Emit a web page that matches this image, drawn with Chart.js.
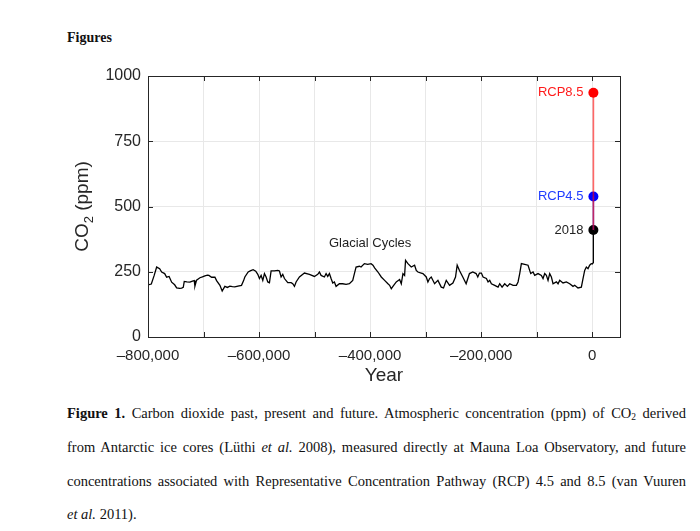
<!DOCTYPE html>
<html>
<head>
<meta charset="utf-8">
<title>Figure 1</title>
<script src="https://cdn.jsdelivr.net/npm/chart.js@4.4.1/dist/chart.umd.min.js"></script>
<style>
  html, body { margin: 0; padding: 0; background: #fff; }
  body { width: 700px; height: 531px; position: relative; overflow: hidden; }
  #wrap { position: absolute; left: 0; top: 0; width: 700px; height: 395px; }
  .head { position: absolute; left: 67px; top: 29px; font: bold 14px "Liberation Serif", serif; color: #111; line-height: 18px; }
  .cap { position: absolute; left: 67px; width: 619px; font: 14.5px "Liberation Serif", serif; color: #111;
         line-height: 18px; white-space: nowrap; text-align: justify; text-align-last: justify; }
  .cap.last { text-align-last: left; }
  .cap sub { font-size: 9.5px; vertical-align: -2px; line-height: 0; }
</style>
</head>
<body>
<div class="head">Figures</div>
<div id="wrap"><canvas id="co2Chart"></canvas></div>
<div class="cap" style="top:404px"><b>Figure 1.</b> Carbon dioxide past, present and future. Atmospheric concentration (ppm) of CO<sub>2</sub> derived</div>
<div class="cap" style="top:438px">from Antarctic ice cores (Lüthi <i>et al.</i> 2008), measured directly at Mauna Loa Observatory, and future</div>
<div class="cap" style="top:472px">concentrations associated with Representative Concentration Pathway (RCP) 4.5 and 8.5 (van Vuuren</div>
<div class="cap last" style="top:505px"><i>et al.</i> 2011).</div>

<script>
// Ice core record (years relative to present, CO2 ppm)
const years = [
  -800000, -794000, -789000, -784400, -779000, -775400, -770000, -766400, -762000, -757400,
  -752000, -748400, -743000, -739400, -736500, -734700, -730000, -724500, -720000, -716700,
  -715500, -712500, -706500, -702000, -697500, -693000, -690300, -685500, -679500, -676500,
  -670500, -666400, -661600, -657000, -652600, -648000, -643600, -638000, -631600, -628000,
  -625600, -619600, -615000, -610600, -606000, -602300, -599300, -596300, -593300, -590300,
  -587300, -584300, -581300, -578300, -572300, -566300, -563300, -560300, -557300, -554300,
  -548300, -542300, -539300, -536300, -533300, -527300, -518300, -509300, -500300, -494300,
  -491300, -488300, -482300, -479300, -476300, -473300, -470300, -467300, -464300, -461300,
  -455300, -449300, -443300, -437300, -431300, -428300, -425300, -419300, -416300, -410300,
  -404300, -398300, -394900, -391900, -385900, -379900, -373900, -367900, -364900, -361900,
  -358900, -352900, -346900, -343900, -340900, -337900, -336200, -331900, -325900, -319900,
  -316900, -313900, -307900, -304900, -298900, -295900, -292900, -289900, -283900, -277900,
  -271900, -267800, -262900, -256900, -250900, -246200, -243200, -239100, -233100, -227100,
  -221100, -215100, -209100, -206100, -203100, -199600, -196600, -190600, -187600, -184600,
  -181600, -175600, -169600, -166600, -162400, -157600, -152800, -148600, -142600, -136600,
  -133600, -130600, -127600, -121600, -115600, -110800, -106600, -103600, -97600, -91600,
  -88600, -85600, -82600, -79600, -76600, -73600, -70600, -64600, -61600, -58600,
  -52600, -46600, -40600, -34600, -31600, -25600, -19600, -16600, -13600, -10600,
  -7600, -4600, -1800, 0, 1850, 1958, 2018
];
const co2 = [
  200, 203, 235, 268, 262, 249, 243, 229, 232, 210,
  200, 188, 186, 187, 190, 213, 211, 210, 214, 216,
  195, 218, 227, 230, 234, 237, 236, 229, 229, 216,
  198, 176, 194, 190, 195, 193, 192, 195, 198, 215,
  230, 249, 254, 258, 252, 240, 224, 236, 217, 243,
  230, 211, 208, 253, 253, 255, 253, 230, 240, 224,
  208, 208, 204, 194, 211, 230, 245, 240, 232, 240,
  249, 236, 230, 243, 232, 243, 224, 207, 211, 194,
  204, 204, 202, 204, 217, 243, 268, 271, 268, 281,
  278, 281, 275, 265, 249, 230, 217, 204, 198, 185,
  194, 211, 220, 204, 243, 236, 294, 281, 268, 275,
  255, 249, 245, 243, 230, 211, 224, 230, 204, 217,
  191, 188, 217, 198, 207, 230, 275, 255, 230, 204,
  243, 249, 243, 230, 245, 245, 230, 224, 211, 217,
  204, 198, 191, 204, 191, 204, 194, 204, 198, 198,
  211, 243, 281, 278, 275, 243, 249, 236, 243, 236,
  224, 243, 236, 217, 243, 230, 204, 211, 204, 217,
  207, 211, 204, 194, 198, 188, 191, 224, 255, 268,
  262, 275, 281, 280, 285, 315, 410
];

// 2018 measurement and 2100 scenarios
const scenarioNames = ['2018', 'RCP4.5', 'RCP8.5'];
const scenarioYears = [2018, 2100, 2100];
const scenarioCo2 = [410, 538, 936];
const scenarioColors = ['#000000', '#0000ff', '#ff0000'];
const scenarioTextColors = ['#222222', '#1f3cff', '#ff1a1a'];

// axis ticks
const xGridTicks = [-800000, -700000, -600000, -500000, -400000, -300000, -200000, -100000, 0];
const xLabelTicks = [-800000, -600000, -400000, -200000, 0];
const xTickLabels = ['\u2013800,000', '\u2013600,000', '\u2013400,000', '\u2013200,000', '0'];
const yTicks = [0, 250, 500, 750, 1000];

const glacialLabel = { text: 'Glacial Cycles', x: -400000, y: 360 };

const INK = '#262626';
const SANS = '"Liberation Sans", Arial, Helvetica, sans-serif';

function pathTo(i) {
  return [{ x: scenarioYears[0], y: scenarioCo2[0] }, { x: scenarioYears[i], y: scenarioCo2[i] }];
}

const matlabFrame = {
  id: 'matlabFrame',
  afterDatasetsDraw(chart) {
    const { ctx, scales: { x, y } } = chart;
    ctx.save();
    ctx.font = '13px ' + SANS;
    ctx.textAlign = 'right';
    ctx.textBaseline = 'middle';
    scenarioNames.forEach((name, i) => {
      ctx.fillStyle = scenarioTextColors[i];
      ctx.fillText(name, x.getPixelForValue(scenarioYears[i]) - 10, y.getPixelForValue(scenarioCo2[i]));
    });
    ctx.textAlign = 'center';
    ctx.fillStyle = '#222';
    ctx.fillText(glacialLabel.text, x.getPixelForValue(glacialLabel.x), y.getPixelForValue(glacialLabel.y));
    ctx.restore();
  },
  afterDraw(chart) {
    const { ctx, chartArea: a, scales: { x, y } } = chart;
    ctx.save();
    ctx.strokeStyle = INK;
    ctx.lineWidth = 1;
    ctx.strokeRect(Math.round(a.left) + 0.5, Math.round(a.top) + 0.5,
                   Math.round(a.right - a.left), Math.round(a.bottom - a.top));
    const len = 5;
    ctx.beginPath();
    x.ticks.forEach(t => {
      if (t.value <= x.min || t.value >= x.max) return;
      const px = Math.round(x.getPixelForValue(t.value)) + 0.5;
      ctx.moveTo(px, a.bottom); ctx.lineTo(px, a.bottom - len);
      ctx.moveTo(px, a.top); ctx.lineTo(px, a.top + len);
    });
    y.ticks.forEach(t => {
      if (t.value <= y.min || t.value >= y.max) return;
      const py = Math.round(y.getPixelForValue(t.value)) + 0.5;
      ctx.moveTo(a.left, py); ctx.lineTo(a.left + len, py);
      ctx.moveTo(a.right, py); ctx.lineTo(a.right - len, py);
    });
    ctx.stroke();

    // y title with subscript
    const cy = (a.top + a.bottom) / 2;
    ctx.translate(88, cy);
    ctx.rotate(-Math.PI / 2);
    ctx.fillStyle = INK;
    ctx.textBaseline = 'alphabetic';
    ctx.textAlign = 'left';
    const big = '19px ' + SANS, small = '13px ' + SANS;
    ctx.font = big; const w1 = ctx.measureText('CO').width; const w3 = ctx.measureText(' (ppm)').width;
    ctx.font = small; const w2 = ctx.measureText('2').width;
    let sx = -(w1 + w2 + w3) / 2;
    ctx.font = big; ctx.fillText('CO', sx, 0); sx += w1;
    ctx.font = small; ctx.fillText('2', sx, 5); sx += w2;
    ctx.font = big; ctx.fillText(' (ppm)', sx, 0);
    ctx.restore();
  }
};

new Chart(document.getElementById('co2Chart'), {
  type: 'line',
  data: {
    datasets: [
      {
        label: 'Ice core / Mauna Loa',
        data: years.map((yr, i) => ({ x: yr, y: co2[i] })),
        borderColor: '#000',
        borderWidth: 1.3,
        pointRadius: 0,
        tension: 0
      },
      {
        label: 'RCP8.5 path',
        data: pathTo(2),
        borderColor: 'rgba(255,0,0,0.6)',
        borderWidth: 1.6,
        pointRadius: 0
      },
      {
        label: 'RCP4.5 path',
        data: pathTo(1),
        borderColor: 'rgba(30,30,255,0.7)',
        borderWidth: 1.6,
        pointRadius: 0
      },
      {
        label: 'Scenarios',
        type: 'scatter',
        data: scenarioYears.map((yr, i) => ({ x: yr, y: scenarioCo2[i] })),
        pointRadius: 5,
        pointBackgroundColor: scenarioColors,
        pointBorderColor: scenarioColors,
        pointBorderWidth: 0
      }
    ]
  },
  options: {
    responsive: true,
    maintainAspectRatio: false,
    animation: false,
    layout: { padding: { left: 0, top: 76, right: 80, bottom: 0 } },
    plugins: { legend: { display: false }, tooltip: { enabled: false } },
    scales: {
      x: {
        type: 'linear',
        min: -800000,
        max: 50000,
        afterBuildTicks: s => { s.ticks = xGridTicks.map(v => ({ value: v })); },
        afterFit: s => { s.height = 58; },
        grid: { color: '#e8e8e8', drawTicks: false },
        border: { display: false },
        ticks: {
          autoSkip: false,
          maxRotation: 0,
          padding: 10,
          color: INK,
          font: { family: SANS, size: 15 },
          callback: v => {
            const i = xLabelTicks.indexOf(v);
            return i >= 0 ? xTickLabels[i] : '';
          }
        },
        title: {
          display: true,
          text: 'Year',
          color: INK,
          font: { family: SANS, size: 19 },
          padding: { top: 0, bottom: 8 }
        }
      },
      y: {
        min: 0,
        max: 1000,
        afterFit: s => { s.width = 148; },
        grid: { color: '#e8e8e8', drawTicks: false },
        border: { display: false },
        ticks: {
          stepSize: 250,
          padding: 7,
          color: INK,
          font: { family: SANS, size: 16 },
          callback: v => yTicks.includes(v) ? String(v) : ''
        }
      }
    }
  },
  plugins: [matlabFrame]
});
</script>
</body>
</html>
